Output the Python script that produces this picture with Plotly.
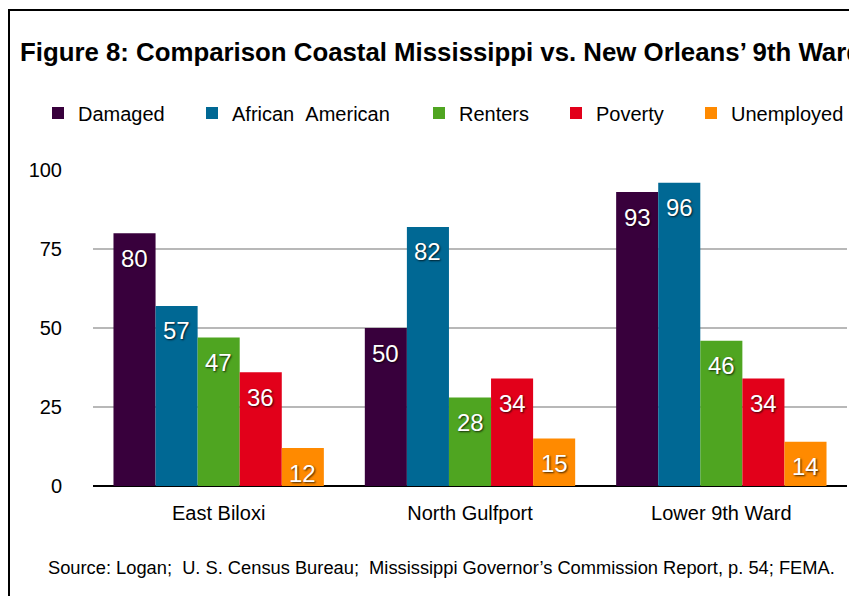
import plotly.graph_objects as go

categories = ["East Biloxi", "North Gulfport", "Lower 9th Ward"]
series_names = ["Damaged", "African\u00a0\u00a0American", "Renters", "Poverty", "Unemployed"]
damaged = [80, 50, 93]
african_american = [57, 82, 96]
renters = [47, 28, 46]
poverty = [36, 34, 34]
unemployed = [12, 15, 14]
series_values = [damaged, african_american, renters, poverty, unemployed]
colors = ["#38003c", "#006894", "#4fa521", "#e2001a", "#ff8a00"]
legend_widths = [109, 182, 92, 90, 118]
y_ticks = [0, 25, 50, 75, 100]

FONT = "Liberation Sans, Arial, Helvetica, sans-serif"
# page body has an 8px margin, so the figure is laid out 8px up/left
W, H = 849, 588
L, R, T, B = 85, 10, 162, 110
pw = W - L - R
ph = H - T - B
BARGAP = 0.163
n_series = len(series_names)
bar_px = pw / len(categories) * (1 - BARGAP) / n_series


def px_x(x):
    return (x - L) / pw


def px_y(y):
    return (H - B - y) / ph


fig = go.Figure()
for i, (name, vals, col, lw) in enumerate(zip(series_names, series_values, colors, legend_widths)):
    fig.add_trace(go.Bar(
        x=categories, y=vals, name=name,
        marker=dict(color=col, line=dict(width=0)),
        legendwidth=lw,
        hoverinfo="skip",
    ))
    for cat, v in zip(categories, vals):
        fig.add_annotation(
            x=cat, y=v, xref="x", yref="y", text=str(v), showarrow=False,
            xshift=(i - (n_series - 1) / 2) * bar_px, yshift=-25,
            xanchor="center", yanchor="middle",
            font=dict(color="white", size=24, family=FONT,
                      shadow="1px 1px 2px rgba(0,0,0,0.75)"))

# frame border (extends beyond the visible page on right/bottom)
fig.add_shape(type="rect", xref="paper", yref="paper",
              x0=px_x(1), x1=px_x(W + 20),
              y0=px_y(H + 20), y1=px_y(2),
              line=dict(color="black", width=2), fillcolor="rgba(0,0,0,0)", layer="above")

fig.add_annotation(
    text="Source: Logan;\u00a0\u00a0U. S. Census Bureau;\u00a0\u00a0Mississippi Governor\u2019s Commission Report, p. 54; FEMA.",
    xref="paper", yref="paper", x=px_x(433), y=px_y(559),
    xanchor="center", yanchor="middle", showarrow=False,
    font=dict(size=18.3, color="black", family=FONT))

fig.update_layout(
    width=W, height=H,
    margin=dict(l=L, r=R, t=T, b=B, autoexpand=False),
    paper_bgcolor="white", plot_bgcolor="white",
    barmode="group", bargap=BARGAP, bargroupgap=0,
    title=dict(text="<b>Figure 8: Comparison Coastal Mississippi vs. New Orleans\u2019 9th Ward</b>",
               xref="container", yref="container", x=12 / W, xanchor="left",
               y=1 - 44 / H, yanchor="middle", automargin=False,
               font=dict(size=25.8, color="black", family=FONT)),
    legend=dict(orientation="h", xref="paper", yref="paper",
                x=px_x(30), xanchor="left", y=px_y(105), yanchor="middle",
                font=dict(size=20, color="black", family=FONT),
                bgcolor="rgba(0,0,0,0)", traceorder="normal"),
    font=dict(family=FONT, color="black"),
    xaxis=dict(showgrid=False, ticks="", showline=False,
               tickfont=dict(size=20, color="black", family=FONT),
               ticklabelstandoff=13),
    yaxis=dict(range=[0, 100], tickvals=y_ticks, ticktext=[str(v) for v in y_ticks],
               showgrid=True, gridcolor="#b8b8b8", gridwidth=1.5,
               zeroline=True, zerolinecolor="black", zerolinewidth=2,
               ticks="", showline=False,
               tickfont=dict(size=20, color="black", family=FONT),
               ticklabelstandoff=30),
)

fig.write_html("out.html")
